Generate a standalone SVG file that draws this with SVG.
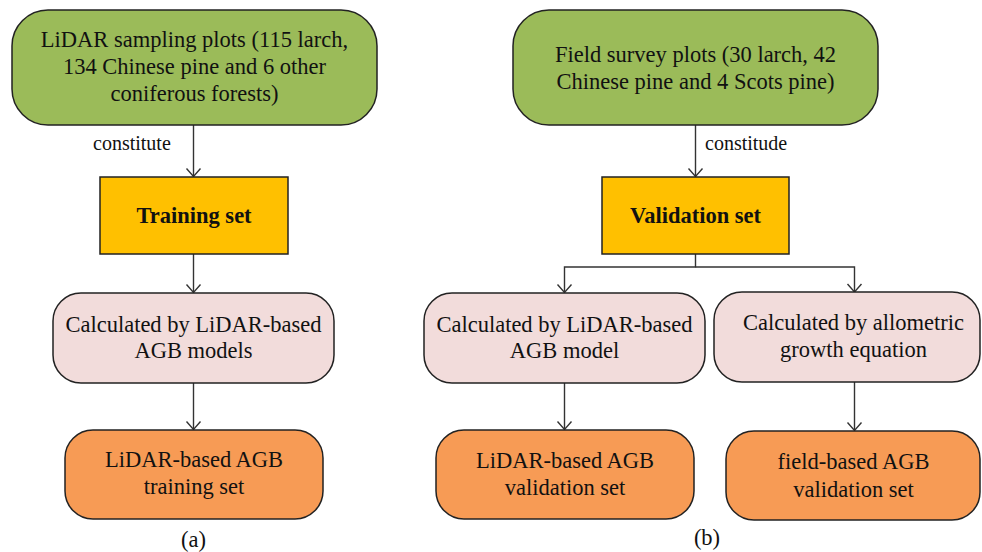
<svg xmlns="http://www.w3.org/2000/svg" width="982" height="552" viewBox="0 0 982 552">
  <style>
    text { font-family: "Liberation Serif", "Times New Roman", serif; font-size: 22.5px; fill: #111; text-anchor: middle; }
    .bold { font-weight: bold; }
    .lbl { font-size: 20px; text-anchor: start; }
    .box { stroke: #222; stroke-width: 1.5; }
    .green { fill: #9BBB59; }
    .yellow { fill: #FFC000; }
    .pink { fill: #F2DCDB; }
    .orange { fill: #F79B55; }
    .edge { fill: none; stroke: #333; stroke-width: 1.4; }
  </style>
  <defs>
    <!-- open V arrowhead -->
    <marker id="vee" markerUnits="userSpaceOnUse" markerWidth="18" markerHeight="18" refX="8" refY="7" viewBox="-1 -2 18 18" orient="auto" overflow="visible">
      <path d="M0,0 L8,7 L0,14" fill="none" stroke="#333" stroke-width="1.4"/>
    </marker>
  </defs>
  <rect width="982" height="552" fill="#fff"/>

  <!-- connectors -->
  <g id="connectors">
    <path class="edge" d="M193.5,125 V176.5" marker-end="url(#vee)"/>
    <path class="edge" d="M193.5,254 V292.5" marker-end="url(#vee)"/>
    <path class="edge" d="M193.5,383 V429.5" marker-end="url(#vee)"/>
    <path class="edge" d="M695.5,125 V176.5" marker-end="url(#vee)"/>
    <path class="edge" d="M695.5,254 V267 H564.5 V292.5" marker-end="url(#vee)"/>
    <path class="edge" d="M695.5,267 H854.5 V292" marker-end="url(#vee)"/>
    <path class="edge" d="M564.5,383 V429.5" marker-end="url(#vee)"/>
    <path class="edge" d="M854.5,382 V430.5" marker-end="url(#vee)"/>
    <text class="lbl" x="93" y="150">constitute</text>
    <text class="lbl" x="705" y="150">constitude</text>
  </g>

  <!-- (a) training branch -->
  <g id="lidar-plots">
    <rect class="box green" x="12" y="10" width="365" height="115" rx="36"/>
    <text x="194.5" y="47">LiDAR sampling plots (115 larch,</text>
    <text x="194.5" y="74">134 Chinese pine and 6 other</text>
    <text x="194.5" y="101">coniferous forests)</text>
  </g>
  <g id="training-set">
    <rect class="box yellow" x="100" y="177" width="188" height="77"/>
    <text class="bold" x="194" y="223">Training set</text>
  </g>
  <g id="calc-lidar-models">
    <rect class="box pink" x="53" y="293" width="281" height="90" rx="28"/>
    <text x="193.5" y="332">Calculated by LiDAR-based</text>
    <text x="193.5" y="358">AGB models</text>
  </g>
  <g id="lidar-training">
    <rect class="box orange" x="65" y="430" width="258" height="89" rx="28"/>
    <text x="194" y="467">LiDAR-based AGB</text>
    <text x="194" y="494">training set</text>
  </g>
  <text x="193.5" y="547">(a)</text>

  <!-- (b) validation branch -->
  <g id="field-plots">
    <rect class="box green" x="513" y="10" width="365" height="115" rx="36"/>
    <text x="695.5" y="62">Field survey plots (30 larch, 42</text>
    <text x="695.5" y="89">Chinese pine and 4 Scots pine)</text>
  </g>
  <g id="validation-set">
    <rect class="box yellow" x="602" y="177" width="187" height="77"/>
    <text class="bold" x="695.5" y="223">Validation set</text>
  </g>
  <g id="calc-lidar-model">
    <rect class="box pink" x="424" y="293" width="281" height="90" rx="28"/>
    <text x="564.5" y="332">Calculated by LiDAR-based</text>
    <text x="564.5" y="358">AGB model</text>
  </g>
  <g id="calc-allometric">
    <rect class="box pink" x="714" y="292" width="266" height="90" rx="28"/>
    <text x="853.5" y="330">Calculated by allometric</text>
    <text x="853.5" y="357">growth equation</text>
  </g>
  <g id="lidar-validation">
    <rect class="box orange" x="436" y="430" width="258" height="89" rx="28"/>
    <text x="565" y="468">LiDAR-based AGB</text>
    <text x="565" y="495">validation set</text>
  </g>
  <g id="field-validation">
    <rect class="box orange" x="726" y="431" width="254" height="89" rx="28"/>
    <text x="853.5" y="469">field-based AGB</text>
    <text x="853.5" y="497">validation set</text>
  </g>
  <text x="707" y="545">(b)</text>
</svg>
